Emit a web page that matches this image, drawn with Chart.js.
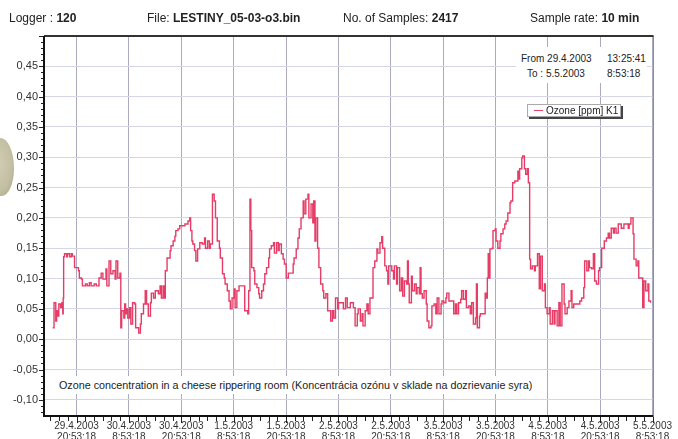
<!DOCTYPE html>
<html>
<head>
<meta charset="utf-8">
<script src="https://cdn.jsdelivr.net/npm/chart.js@4.4.1/dist/chart.umd.min.js"></script>
<style>
  html, body { margin: 0; padding: 0; background: #fff; }
  body { font-family: 'Liberation Sans', Arial, sans-serif; color: #222; }
  #wrap { position: relative; width: 678px; height: 439px; overflow: hidden; }
  #c { position: absolute; left: 0; top: 0; }
  .hdr { position: absolute; top: 11px; font-size: 12px; line-height: 14px; white-space: nowrap; }
  .hdr b { font-weight: bold; }
  #range { position: absolute; left: 516px; top: 47px; width: 131px; height: 36px; background: #fff; font-size: 10px; line-height: 12px; }
  #range span { position: absolute; white-space: nowrap; }
  #legend { position: absolute; left: 527px; top: 104px; width: 92px; height: 11px; background: #fff; border: 1px solid #aaa; box-shadow: 2px 2px 0 #444; font-size: 10px; line-height: 11px; white-space: nowrap; }
  #legend i { position: absolute; left: 6px; top: 5px; width: 9px; height: 1px; background: #e8436a; }
  #legend span { position: absolute; left: 18px; top: 0; }
  #note { position: absolute; left: 55px; top: 376px; height: 18px; padding: 0 4px; background: #fff; font-size: 10.75px; line-height: 18px; white-space: nowrap; }
  #blob { position: absolute; left: -12px; top: 138px; width: 26px; height: 58px; border-radius: 45% 55% 50% 50%; background: radial-gradient(ellipse at 35% 45%, #d2cfb6 0%, #c2bfa2 60%, #a4a188 100%); }
</style>
</head>
<body>
<div id="wrap">
  <canvas id="c" width="678" height="439"></canvas>
  <div id="blob"></div>
  <div class="hdr" style="left:9px">Logger : <b>120</b></div>
  <div class="hdr" style="left:147px">File: <b>LESTINY_05-03-o3.bin</b></div>
  <div class="hdr" style="left:343px">No. of Samples: <b>2417</b></div>
  <div class="hdr" style="left:530px">Sample rate: <b>10 min</b></div>
  <div id="range">
    <span style="left:5px;top:6px">From 29.4.2003</span>
    <span style="left:91px;top:6px">13:25:41</span>
    <span style="left:11px;top:21px">To : 5.5.2003</span>
    <span style="left:91px;top:21px">8:53:18</span>
  </div>
  <div id="legend"><i></i><span>Ozone [ppm] K1</span></div>
  <div id="note">Ozone concentration in a cheese rippering room (Koncentrácia ozónu v sklade na dozrievanie syra)</div>
</div>
<script>
// hours since 29.4.2003 13:25:41
const hours = [
  2.0, 2.3, 2.7, 2.9, 3.2, 3.4, 3.8, 4.1, 4.3, 4.4, 4.5, 4.7, 5.2, 5.4, 5.9, 6.3, 6.5, 7.0, 7.7, 7.9,
  8.1, 8.6, 8.8, 9.5, 9.9, 10.4, 10.8, 11.5, 12.0, 12.6, 13.1, 13.5, 13.8, 14.2, 14.4, 14.9, 15.3, 15.8, 16.3, 16.5,
  16.9, 17.4, 17.6, 17.8, 18.3, 18.5, 18.7, 19.0, 19.2, 19.6, 19.9, 20.3, 20.8, 21.0, 21.7, 22.1, 22.3, 22.8, 23.2, 23.5,
  23.9, 24.4, 24.6, 25.1, 25.5, 26.2, 26.6, 26.9, 27.3, 27.5, 27.8, 28.2, 28.9, 29.1, 29.6, 30.0, 30.2, 30.7, 31.1, 32.3,
  33.0, 33.4, 33.6, 33.9, 34.1, 34.5, 34.8, 35.2, 35.7, 36.3, 36.8, 37.0, 37.5, 37.9, 38.1, 38.6, 39.0, 39.3, 39.7, 40.2,
  40.4, 40.9, 41.3, 41.5, 42.0, 42.4, 42.7, 43.1, 43.6, 43.8, 44.2, 44.7, 45.8, 46.0, 46.7, 46.9, 47.2, 47.4, 47.6, 48.1,
  48.3, 48.8, 49.2, 49.4, 49.9, 50.3, 50.6, 51.0, 51.5, 51.7, 52.1, 52.6, 52.8, 53.3, 53.7, 53.9, 54.4, 54.8, 55.1, 55.5,
  56.0, 56.7, 57.1, 57.3, 57.8, 58.2, 58.5, 58.9, 59.4, 59.6, 60.0, 60.5, 60.7, 61.2, 61.6, 61.8, 62.1, 62.3, 62.7, 63.0,
  63.4, 63.9, 64.1, 64.6, 65.0, 65.7, 66.1, 66.4, 66.8, 67.3, 67.5, 68.4, 68.6, 69.1, 69.5, 70.2, 70.9, 71.3, 71.8, 72.0,
  72.5, 72.9, 73.1, 73.6, 74.0, 74.3, 74.7, 75.2, 75.4, 75.8, 76.3, 76.5, 77.0, 77.4, 77.6, 78.1, 78.5, 78.8, 79.0, 79.4,
  79.7, 80.1, 80.3, 80.8, 81.0, 81.5, 81.9, 82.2, 82.6, 83.1, 83.3, 83.5, 83.7, 84.2, 84.4, 84.9, 85.3, 85.5, 86.0, 86.2,
  86.4, 86.7, 87.1, 87.6, 87.8, 88.2, 88.7, 88.9, 89.4, 89.8, 90.1, 90.5, 91.0, 91.2, 91.6, 92.1, 92.3, 92.8, 93.4, 93.9,
  94.3, 94.6, 95.0, 95.5, 95.7, 96.1, 96.6, 96.8, 97.3, 97.7, 98.0, 98.4, 98.9, 99.1, 99.3, 99.8, 100.0, 100.7, 101.1, 101.3,
  101.6, 101.8, 102.0, 102.2, 102.7, 102.9, 103.4, 103.6, 104.0, 104.5, 104.7, 105.2, 105.6, 105.9, 106.3, 106.8, 107.0, 107.4, 107.9, 108.1,
  108.6, 108.8, 109.0, 109.5, 109.7, 110.1, 110.4, 110.8, 111.0, 111.3, 111.5, 111.9, 112.4, 112.6, 113.1, 113.5, 113.8, 114.2, 114.7, 114.9,
  115.3, 115.8, 116.0, 116.5, 116.9, 117.1, 117.6, 118.0, 118.3, 118.7, 119.2, 119.4, 119.9, 120.3, 120.8, 121.0, 121.4, 122.6, 122.8, 123.2,
  123.7, 123.9, 124.4, 124.8, 125.0, 125.5, 125.9, 126.2, 126.6, 127.1, 127.3, 127.8, 128.2, 128.4, 128.9, 129.3, 129.6, 130.0, 130.5, 130.7,
  131.1, 131.6, 132.3, 132.9, 133.9, 134.1, 134.5, 135.0, 135.2, 135.7, 136.1, 136.3, 136.8, 137.2, 137.5, 137.9, 138.4, 138.6, 139.0,
];

// ozone [ppm] K1
const ozone = [
  0.019, 0.060, 0.030, 0.047, 0.038, 0.058, 0.052, 0.060, 0.042, 0.068, 0.136, 0.141, 0.136, 0.141, 0.136, 0.141, 0.137, 0.118, 0.118, 0.113,
  0.101, 0.099, 0.088, 0.091, 0.088, 0.093, 0.088, 0.091, 0.088, 0.101, 0.109, 0.099, 0.099, 0.116, 0.088, 0.129, 0.108, 0.113, 0.099, 0.129,
  0.101, 0.109, 0.019, 0.047, 0.035, 0.058, 0.042, 0.050, 0.035, 0.052, 0.025, 0.060, 0.058, 0.019, 0.010, 0.025, 0.042, 0.058, 0.080, 0.058,
  0.038, 0.060, 0.076, 0.068, 0.080, 0.075, 0.088, 0.068, 0.088, 0.068, 0.113, 0.134, 0.146, 0.154, 0.162, 0.170, 0.179, 0.182, 0.187, 0.190,
  0.195, 0.200, 0.179, 0.162, 0.157, 0.146, 0.129, 0.149, 0.159, 0.157, 0.167, 0.150, 0.162, 0.150, 0.157, 0.239, 0.228, 0.200, 0.162, 0.150,
  0.134, 0.108, 0.101, 0.091, 0.080, 0.063, 0.050, 0.068, 0.083, 0.052, 0.080, 0.088, 0.088, 0.047, 0.042, 0.080, 0.231, 0.179, 0.118, 0.113,
  0.091, 0.085, 0.075, 0.068, 0.080, 0.091, 0.108, 0.118, 0.134, 0.149, 0.154, 0.159, 0.142, 0.159, 0.146, 0.157, 0.141, 0.132, 0.124, 0.101,
  0.109, 0.109, 0.124, 0.134, 0.149, 0.167, 0.182, 0.200, 0.228, 0.207, 0.231, 0.239, 0.200, 0.223, 0.192, 0.228, 0.162, 0.200, 0.150, 0.118,
  0.091, 0.080, 0.068, 0.075, 0.047, 0.030, 0.047, 0.035, 0.068, 0.050, 0.060, 0.060, 0.050, 0.068, 0.052, 0.060, 0.052, 0.022, 0.042, 0.050,
  0.030, 0.042, 0.022, 0.047, 0.058, 0.042, 0.068, 0.068, 0.118, 0.129, 0.149, 0.142, 0.159, 0.169, 0.150, 0.121, 0.113, 0.091, 0.121, 0.121,
  0.113, 0.099, 0.121, 0.091, 0.118, 0.080, 0.101, 0.071, 0.096, 0.091, 0.129, 0.091, 0.060, 0.104, 0.080, 0.091, 0.075, 0.085, 0.075, 0.118,
  0.075, 0.068, 0.080, 0.058, 0.030, 0.019, 0.022, 0.055, 0.058, 0.042, 0.068, 0.042, 0.058, 0.063, 0.060, 0.068, 0.076, 0.063, 0.063, 0.042,
  0.058, 0.042, 0.060, 0.066, 0.080, 0.066, 0.080, 0.052, 0.055, 0.042, 0.060, 0.025, 0.035, 0.091, 0.019, 0.038, 0.042, 0.042, 0.076, 0.068,
  0.101, 0.141, 0.101, 0.149, 0.150, 0.179, 0.182, 0.162, 0.150, 0.162, 0.174, 0.182, 0.190, 0.195, 0.208, 0.225, 0.228, 0.258, 0.261, 0.261,
  0.277, 0.264, 0.281, 0.299, 0.302, 0.281, 0.272, 0.281, 0.258, 0.132, 0.116, 0.121, 0.113, 0.121, 0.141, 0.083, 0.137, 0.080, 0.091, 0.052,
  0.042, 0.052, 0.025, 0.047, 0.025, 0.047, 0.022, 0.060, 0.022, 0.091, 0.058, 0.042, 0.052, 0.063, 0.080, 0.052, 0.058, 0.058, 0.063, 0.068,
  0.085, 0.129, 0.113, 0.129, 0.118, 0.116, 0.141, 0.096, 0.091, 0.113, 0.118, 0.150, 0.150, 0.162, 0.167, 0.175, 0.167, 0.183, 0.175, 0.183,
  0.175, 0.190, 0.183, 0.190, 0.183, 0.190, 0.200, 0.174, 0.132, 0.121, 0.129, 0.101, 0.101, 0.052, 0.096, 0.080, 0.091, 0.063, 0.060,
];

// x axis: end of record and the 12-hourly labels
const END_HOURS = 139.46;
const FIRST_LABEL_HOURS = 7.46;
const xTickDates = ['29.4.2003', '30.4.2003', '30.4.2003', '1.5.2003', '1.5.2003', '2.5.2003',
  '2.5.2003', '3.5.2003', '3.5.2003', '4.5.2003', '4.5.2003', '5.5.2003'];
const xTickTimes = ['20:53:18', '8:53:18', '20:53:18', '8:53:18', '20:53:18', '8:53:18',
  '20:53:18', '8:53:18', '20:53:18', '8:53:18', '20:53:18', '8:53:18'];

// y axis range, ppm
const yMin = -0.125;
const yMax = 0.5;

const LINE_RED = '#e63c66';
const isMajorX = (i) => i % 6 === 3;
const isMajorY = (v) => Math.round(v * 100) % 5 === 0;

// axis lines, frame and the small tick marks
const framePlugin = {
  id: 'frame',
  afterDraw(chart) {
    const { ctx, chartArea: a, scales } = chart;
    ctx.save();
    ctx.strokeStyle = '#222';
    ctx.lineWidth = 1;
    scales.y.ticks.forEach((t) => {
      const py = Math.round(scales.y.getPixelForValue(t.value)) + 0.5;
      const len = isMajorY(t.value) ? 5 : 3;
      ctx.beginPath();
      ctx.moveTo(a.left - len, py);
      ctx.lineTo(a.left, py);
      ctx.stroke();
    });
    scales.x.ticks.forEach((t, i) => {
      const px = Math.round(scales.x.getPixelForValue(t.value)) + 0.5;
      const len = isMajorX(i) ? 6 : 4;
      ctx.beginPath();
      ctx.moveTo(px, a.bottom + 2);
      ctx.lineTo(px, a.bottom + 2 + len);
      ctx.stroke();
    });
    // right border
    ctx.strokeStyle = '#8c8c9c';
    ctx.beginPath();
    ctx.moveTo(Math.round(a.right) + 0.5, a.top);
    ctx.lineTo(Math.round(a.right) + 0.5, a.bottom);
    ctx.stroke();
    // top border
    ctx.strokeStyle = '#333';
    ctx.lineWidth = 2;
    ctx.beginPath();
    ctx.moveTo(a.left, a.top);
    ctx.lineTo(a.right + 1, a.top);
    ctx.stroke();
    // axes
    ctx.strokeStyle = '#111';
    ctx.beginPath();
    ctx.moveTo(a.left, a.top);
    ctx.lineTo(a.left, a.bottom + 1);
    ctx.lineTo(a.right + 1, a.bottom + 1);
    ctx.stroke();
    ctx.restore();
  },
};

const config = {
  type: 'line',
  data: {
    datasets: [
      {
        label: 'Ozone [ppm] K1',
        data: hours.map((h, i) => ({ x: h, y: ozone[i] })),
        borderColor: LINE_RED,
        borderWidth: 1.4,
        pointRadius: 0,
        stepped: true,
        fill: false,
      },
    ],
  },
  options: {
    responsive: false,
    animation: false,
    devicePixelRatio: 1,
    layout: { padding: { top: 36, right: 17, left: 0, bottom: 0 } },
    plugins: {
      legend: { display: false },
      tooltip: { enabled: false },
    },
    scales: {
      x: {
        type: 'linear',
        min: 0,
        max: END_HOURS,
        afterBuildTicks: (scale) => {
          const ticks = [];
          for (let k = 0; k <= 69; k++) ticks.push({ value: FIRST_LABEL_HOURS - 6 + 2 * k });
          scale.ticks = ticks;
        },
        afterFit: (scale) => { scale.height = 24; },
        border: { display: false },
        grid: {
          drawTicks: false,
          lineWidth: 1,
          color: (c) => (isMajorX(c.index) ? '#aaaac0' : 'rgba(0,0,0,0)'),
        },
        ticks: {
          autoSkip: false,
          maxRotation: 0,
          padding: 6,
          color: '#333',
          font: { family: "'Liberation Sans', Arial, sans-serif", size: 10, lineHeight: 1.1 },
          callback: (value, index) => {
            if (!isMajorX(index)) return '';
            const n = (index - 3) / 6;
            return [xTickDates[n], xTickTimes[n]];
          },
        },
      },
      y: {
        min: yMin,
        max: yMax,
        afterBuildTicks: (scale) => {
          const ticks = [];
          for (let k = -12; k <= 50; k++) ticks.push({ value: k / 100 });
          scale.ticks = ticks;
        },
        afterFit: (scale) => { scale.width = 44; },
        border: { display: false },
        grid: {
          drawTicks: false,
          lineWidth: 1,
          color: (c) => (c.tick && isMajorY(c.tick.value) ? '#d6d6e6' : 'rgba(0,0,0,0)'),
        },
        ticks: {
          autoSkip: false,
          padding: 6,
          color: '#333',
          font: { family: "'Liberation Sans', Arial, sans-serif", size: 11 },
          callback: (value) => {
            const k = Math.round(value * 100);
            if (k % 5 !== 0 || k >= 50) return '';
            return value.toFixed(2).replace('.', ',');
          },
        },
      },
    },
  },
  plugins: [framePlugin],
};

new Chart(document.getElementById('c'), config);
</script>
</body>
</html>
